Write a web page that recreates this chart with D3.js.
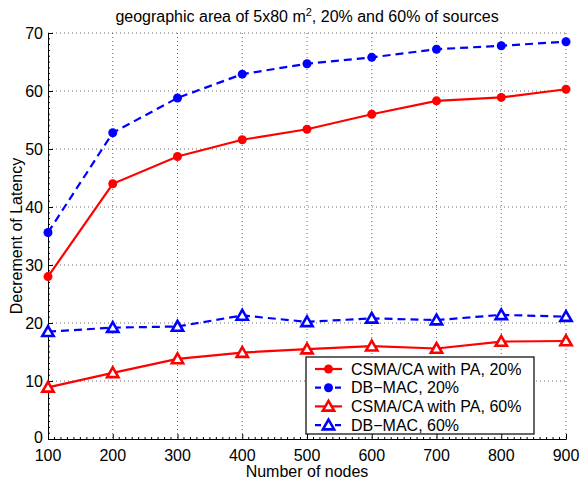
<!DOCTYPE html>
<html>
<head>
<meta charset="utf-8">
<script src="https://cdn.jsdelivr.net/npm/d3@7"></script>
<style>
  body { margin: 0; background: #fff; }
  text { font-family: "Liberation Sans", Arial, Helvetica, sans-serif; fill: #000; }
</style>
</head>
<body>
<div id="chart"></div>
<script>
// data
var nodes = [100, 200, 300, 400, 500, 600, 700, 800, 900];
var csma20 = [28.0, 44.0, 48.7, 51.6, 53.4, 56.0, 58.3, 58.9, 60.3];
var dbmac20 = [35.6, 52.8, 58.8, 62.9, 64.7, 65.8, 67.2, 67.8, 68.5];
var csma60 = [8.9, 11.4, 13.8, 14.9, 15.5, 16.0, 15.6, 16.8, 16.9];
var dbmac60 = [18.5, 19.2, 19.4, 21.3, 20.2, 20.8, 20.5, 21.4, 21.1];
var seriesNames = ["CSMA/CA with PA, 20%", "DB\u2212MAC, 20%", "CSMA/CA with PA, 60%", "DB\u2212MAC, 60%"];
var xTicks = [100, 200, 300, 400, 500, 600, 700, 800, 900];
var yTicks = [0, 10, 20, 30, 40, 50, 60, 70];

// SVG area
var svgWidth = 582;
var svgHeight = 480;

var margin = { top: 33, right: 16, bottom: 41, left: 48 };
var width = svgWidth - margin.left - margin.right;
var height = svgHeight - margin.top - margin.bottom;

var svg = d3.select("#chart")
  .append("svg")
  .attr("width", svgWidth)
  .attr("height", svgHeight);

var chartGroup = svg.append("g")
  .attr("transform", `translate(${margin.left}, ${margin.top})`);

var xScale = d3.scaleLinear().domain([100, 900]).range([0, width]);
var yScale = d3.scaleLinear().domain([0, 70]).range([height, 0]);

// dotted grid
chartGroup.append("g")
  .selectAll("line")
  .data(xTicks.slice(1))
  .enter()
  .append("line")
  .attr("x1", d => xScale(d)).attr("x2", d => xScale(d))
  .attr("y1", 0).attr("y2", height)
  .attr("stroke", "#666")
  .attr("stroke-width", 1)
  .attr("stroke-dasharray", "1,3");

chartGroup.append("g")
  .selectAll("line")
  .data(yTicks.slice(1))
  .enter()
  .append("line")
  .attr("x1", 0).attr("x2", width)
  .attr("y1", d => yScale(d)).attr("y2", d => yScale(d))
  .attr("stroke", "#666")
  .attr("stroke-width", 1)
  .attr("stroke-dasharray", "1,3");

// axes, ticks pointing inward like matlab
var bottomAxis = d3.axisTop(xScale).tickValues(xTicks).tickSize(5).tickFormat("");
var leftAxis = d3.axisRight(yScale).tickValues(yTicks).tickSize(5).tickFormat("");

var xAxis = chartGroup.append("g")
  .attr("transform", `translate(0, ${height})`)
  .call(bottomAxis);
var yAxis = chartGroup.append("g")
  .call(leftAxis);

// minor ticks
var xMinor = d3.range(110, 900, 10).filter(d => d % 100 !== 0);
var yMinor = d3.range(1, 70, 1).filter(d => d % 10 !== 0);
xAxis.selectAll(".minor")
  .data(xMinor)
  .enter()
  .append("line")
  .attr("x1", d => xScale(d)).attr("x2", d => xScale(d))
  .attr("y1", 0).attr("y2", -2)
  .attr("stroke", "#000");
yAxis.selectAll(".minor")
  .data(yMinor)
  .enter()
  .append("line")
  .attr("y1", d => yScale(d)).attr("y2", d => yScale(d))
  .attr("x1", 0).attr("x2", 2)
  .attr("stroke", "#000");

chartGroup.selectAll(".domain").attr("stroke", "#000");

// tick labels
xAxis.selectAll(".xlab")
  .data(xTicks)
  .enter()
  .append("text")
  .attr("x", d => xScale(d))
  .attr("y", 22)
  .attr("text-anchor", "middle")
  .attr("font-size", 16)
  .text(d => d);

yAxis.selectAll(".ylab")
  .data(yTicks)
  .enter()
  .append("text")
  .attr("x", -5)
  .attr("y", d => yScale(d) - (d === 0 ? 2 : 0))
  .attr("dy", "0.35em")
  .attr("text-anchor", "end")
  .attr("font-size", 16)
  .text(d => d);

// axis labels and title
svg.append("text")
  .attr("x", margin.left + width / 2)
  .attr("y", 477)
  .attr("text-anchor", "middle")
  .attr("font-size", 16)
  .text("Number of nodes");

svg.append("text")
  .attr("transform", `translate(22, ${margin.top + height / 2}) rotate(-90)`)
  .attr("text-anchor", "middle")
  .attr("font-size", 16)
  .text("Decrement of Latency");

var title = svg.append("text")
  .attr("x", margin.left + width / 2)
  .attr("y", 22)
  .attr("text-anchor", "middle")
  .attr("font-size", 16);
title.append("tspan").text("geographic area of 5x80 m");
title.append("tspan").attr("dy", -6).attr("font-size", 11).text("2");
title.append("tspan").attr("dy", 6).text(", 20% and 60% of sources");

// series
var series = [
  { name: seriesNames[0], values: csma20, color: "#ff0000", dash: null, marker: "circle" },
  { name: seriesNames[1], values: dbmac20, color: "#0000ff", dash: "8,5", marker: "circle" },
  { name: seriesNames[2], values: csma60, color: "#ff0000", dash: null, marker: "triangle" },
  { name: seriesNames[3], values: dbmac60, color: "#0000ff", dash: "8,5", marker: "triangle" }
];

var line = d3.line()
  .x((d, i) => xScale(nodes[i]))
  .y(d => yScale(d));

var triangle = d3.symbol().type(d3.symbolTriangle).size(55);

function drawMarker(g, s, x, y) {
  if (s.marker === "circle") {
    g.append("circle")
      .attr("cx", x).attr("cy", y).attr("r", 4.5)
      .attr("fill", s.color);
  } else {
    g.append("path")
      .attr("d", triangle)
      .attr("transform", `translate(${x}, ${y + 1})`)
      .attr("fill", "#fff")
      .attr("stroke", s.color)
      .attr("stroke-width", 2.6);
  }
}

series.forEach(function(s) {
  chartGroup.append("path")
    .datum(s.values)
    .attr("d", line)
    .attr("fill", "none")
    .attr("stroke", s.color)
    .attr("stroke-width", 2.2)
    .attr("stroke-dasharray", s.dash);
  var mg = chartGroup.append("g");
  s.values.forEach(function(v, i) {
    drawMarker(mg, s, xScale(nodes[i]), yScale(v));
  });
});

// legend
var legend = svg.append("g").attr("transform", "translate(306, 357)");
legend.append("rect")
  .attr("width", 228)
  .attr("height", 77)
  .attr("fill", "#fff")
  .attr("stroke", "#000")
  .attr("stroke-width", 1.2);

series.forEach(function(s, i) {
  var yy = 12 + i * 18.7;
  legend.append("line")
    .attr("x1", 9).attr("x2", 36)
    .attr("y1", yy).attr("y2", yy)
    .attr("stroke", s.color)
    .attr("stroke-width", 2.2)
    .attr("stroke-dasharray", s.dash ? "6,4" : null);
  drawMarker(legend, s, 22.5, yy);
  legend.append("text")
    .attr("x", 45)
    .attr("y", yy)
    .attr("dy", "0.35em")
    .attr("font-size", 16)
    .text(s.name);
});
</script>
</body>
</html>
